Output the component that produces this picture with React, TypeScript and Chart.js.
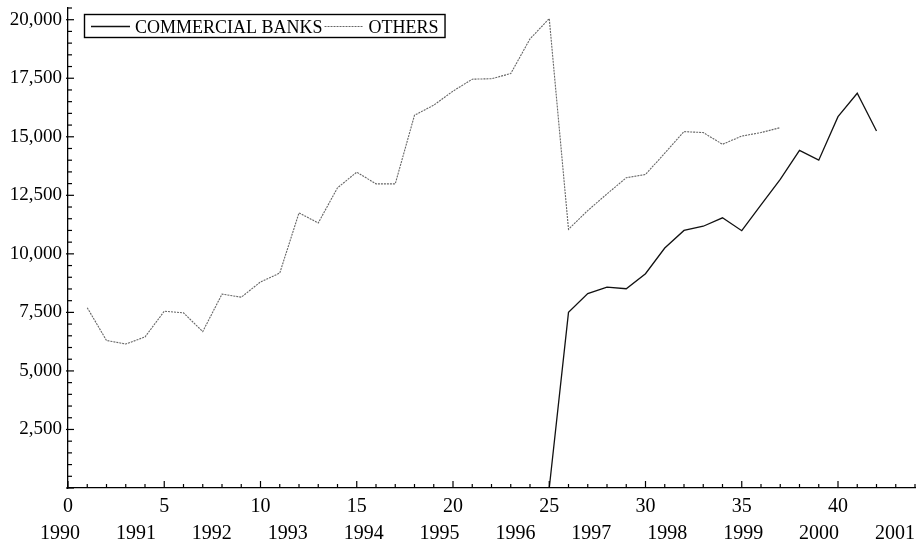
import React, { useEffect, useRef } from "react";
import { Chart, registerables } from "chart.js";
Chart.register(...registerables);

// Quarter index of the first observation of each series (0 = start of 1990)
const othersStartQuarter = 1;
const othersValues = [
  7700, 6300, 6150, 6450, 7550, 7480, 6680, 8280, 8150, 8800, 9180, 11750,
  11320, 12820, 13490, 12990, 12990, 15920, 16350, 16950, 17460, 17480, 17700,
  19180, 20050, 11050, 11850, 12560, 13250, 13390, 14300, 15220, 15180, 14680,
  15030, 15180, 15390,
];
const banksStartQuarter = 25;
const banksValues = [
  0, 7500, 8300, 8580, 8510, 9150, 10250, 11000, 11180, 11540, 10990, 12090,
  13180, 14420, 14000, 15860, 16860, 15250,
];
const seriesNames = ["COMMERCIAL BANKS", "OTHERS"];
const xTickLabels = [0, 5, 10, 15, 20, 25, 30, 35, 40];
const yearLabels = [1990, 1991, 1992, 1993, 1994, 1995, 1996, 1997, 1998, 1999, 2000, 2001];
const yTickLabels = [2500, 5000, 7500, 10000, 12500, 15000, 17500, 20000];

const FONT = "'Liberation Serif', 'Times New Roman', Times, serif";

const toPoints = (start: number, vals: number[]) =>
  vals.map((v, i) => ({ x: start + i, y: v }));

const decorPlugin = {
  id: "decor",
  afterDraw(chart: any) {
    const ctx = chart.ctx as CanvasRenderingContext2D;
    const xs = chart.scales.x;
    const ys = chart.scales.y;
    const area = chart.chartArea;
    ctx.save();
    ctx.strokeStyle = "#000";
    ctx.lineWidth = 1.2;
    // x ticks (minor every quarter, major every 5)
    for (let q = Math.ceil(xs.min); q <= xs.max; q++) {
      const px = xs.getPixelForValue(q);
      const len = q % 5 === 0 ? 7 : 4;
      ctx.beginPath();
      ctx.moveTo(px, area.bottom);
      ctx.lineTo(px, area.bottom - len);
      ctx.stroke();
    }
    // y ticks (minor every 500, major every 2500)
    for (let v = 0; v <= ys.max + 1; v += 500) {
      const py = ys.getPixelForValue(v);
      const major = v % 2500 === 0;
      ctx.beginPath();
      ctx.moveTo(area.left - (major ? 2 : 0), py);
      ctx.lineTo(area.left + (major ? 6 : 4), py);
      ctx.stroke();
    }
    // legend
    const ds = chart.data.datasets;
    ctx.font = `18px ${FONT}`;
    ctx.fillStyle = "#000";
    ctx.textBaseline = "alphabetic";
    const boxX = 84, boxY = 14, boxH = 23;
    let cx = boxX + 7;
    const midY = boxY + boxH / 2 + 1;
    const sample = 39;
    const items: { x0: number; x1: number; tx: number; label: string; d: any }[] = [];
    for (let i = 0; i < ds.length; i++) {
      const d = ds[i];
      const x0 = cx;
      const x1 = cx + sample;
      const tx = x1 + 5;
      const w = ctx.measureText(d.label).width;
      items.push({ x0, x1, tx, label: d.label, d });
      cx = tx + w + (i === 0 ? 2 : 0);
    }
    const boxW = cx + 6 - boxX;
    ctx.lineWidth = 1.4;
    ctx.setLineDash([]);
    ctx.strokeRect(boxX + 0.5, boxY + 0.5, boxW, boxH);
    for (const it of items) {
      ctx.strokeStyle = it.d.borderColor;
      ctx.lineWidth = it.d.borderWidth;
      ctx.setLineDash(it.d.borderDash || []);
      ctx.beginPath();
      ctx.moveTo(it.x0, midY);
      ctx.lineTo(it.x1, midY);
      ctx.stroke();
      ctx.setLineDash([]);
      ctx.fillText(it.label, it.tx, boxY + 19);
    }
    ctx.restore();
  },
};

export default function App() {
  const ref = useRef<HTMLCanvasElement | null>(null);
  useEffect(() => {
    if (!ref.current) return;
    const chart = new Chart(ref.current, {
      type: "line",
      data: {
        datasets: [
          {
            label: seriesNames[0],
            data: toPoints(banksStartQuarter, banksValues),
            borderColor: "#111",
            borderWidth: 1.3,
            pointRadius: 0,
            tension: 0,
            fill: false,
          },
          {
            label: seriesNames[1],
            data: toPoints(othersStartQuarter, othersValues),
            borderColor: "#666",
            borderWidth: 1.1,
            borderDash: [2, 1],
            pointRadius: 0,
            tension: 0,
            fill: false,
          },
        ],
      },
      options: {
        responsive: false,
        animation: false,
        events: [],
        layout: { padding: { top: 8, right: 2, left: 0, bottom: 0 } },
        plugins: { legend: { display: false }, tooltip: { enabled: false } },
        scales: {
          x: {
            type: "linear",
            position: "bottom",
            min: 0,
            max: 44,
            grid: { display: false, drawTicks: false },
            border: { display: true, color: "#000", width: 1.3 },
            afterBuildTicks: (s: any) => {
              s.ticks = xTickLabels.map((v) => ({ value: v }));
            },
            afterFit: (s: any) => {
              s.height = 28;
              s.paddingLeft = 0;
              s.paddingRight = 0;
            },
            ticks: {
              autoSkip: false,
              maxRotation: 0,
              padding: 7,
              color: "#000",
              font: { family: FONT, size: 20 },
              callback: (v: any) => String(v),
            },
          },
          x2: {
            type: "linear",
            position: "bottom",
            min: 1990.105,
            max: 2001.264,
            grid: { display: false, drawTicks: false },
            border: { display: false },
            afterBuildTicks: (s: any) => {
              s.ticks = yearLabels.map((v) => ({ value: v }));
            },
            afterFit: (s: any) => {
              s.height = 28;
              s.paddingLeft = 0;
              s.paddingRight = 0;
            },
            ticks: {
              autoSkip: false,
              maxRotation: 0,
              padding: 6,
              color: "#000",
              font: { family: FONT, size: 20 },
              callback: (v: any) => String(v),
            },
          },
          y: {
            type: "linear",
            min: 0,
            max: 20500,
            grid: { display: false, drawTicks: false },
            border: { display: true, color: "#000", width: 1.3 },
            afterBuildTicks: (s: any) => {
              s.ticks = yTickLabels.map((v) => ({ value: v }));
            },
            afterFit: (s: any) => {
              s.width = 68;
              s.paddingTop = 0;
              s.paddingBottom = 0;
            },
            ticks: {
              autoSkip: false,
              padding: 6,
              color: "#000",
              font: { family: FONT, size: 19 },
              callback: (v: any) => Number(v).toLocaleString("en-US"),
            },
          },
        },
      } as any,
      plugins: [decorPlugin],
    });
    return () => chart.destroy();
  }, []);
  return (
    <div style={{ position: "fixed", left: 0, top: 0, width: 917, height: 544, background: "#fff" }}>
      <canvas ref={ref} width={917} height={544} style={{ display: "block" }} />
    </div>
  );
}
